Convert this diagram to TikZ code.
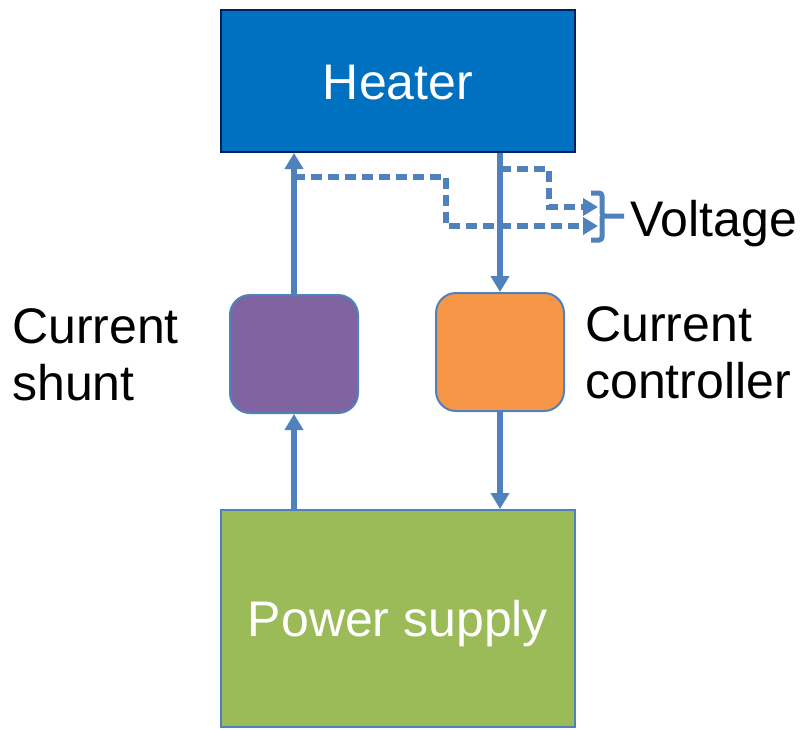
\documentclass[tikz,border=0pt]{standalone}
\usepackage{fontspec}
\setmainfont{Liberation Sans}
\usetikzlibrary{arrows.meta}
\definecolor{wireblue}{HTML}{4F81BD}
\definecolor{heaterblue}{HTML}{0070C0}
\definecolor{heaterline}{HTML}{002060}
\definecolor{shuntpurple}{HTML}{8064A2}
\definecolor{ctrlorange}{HTML}{F79646}
\definecolor{psugreen}{HTML}{9BBB59}

\begin{document}
\begin{tikzpicture}[x=1pt,y=-1pt,
  bigfont/.style={font=\fontsize{50}{57}\selectfont},
  block/.style={draw=wireblue, line width=2pt, inner sep=0pt, text height=36pt, text depth=0pt, bigfont},
  wire/.style={draw=wireblue, line width=5.5pt, -{Triangle[width=18pt,length=16pt]}},
  sense/.style={draw=wireblue, line width=5.5pt, dash pattern=on 11pt off 6pt, -{Triangle[width=17pt,length=15pt]}}]

\useasboundingbox (0,0) rectangle (804,729);

% Heater (top)
\node[block, draw=heaterline, fill=heaterblue, text=white, minimum width=354pt, minimum height=142pt] (heater) at (398,81) {Heater};

% Shunt and controller
\node[block, fill=shuntpurple, rounded corners=20pt, minimum width=128pt, minimum height=118pt] (shunt) at (294,354) {};
\node[block, fill=ctrlorange, rounded corners=20pt, minimum width=128pt, minimum height=118pt] (ctrl) at (500,352) {};

% Power supply (bottom)
\node[block, fill=psugreen, text=white, minimum width=354pt, minimum height=217pt] (psu) at (398,618.5) {Power supply};

% Labels
\node[bigfont, align=left, anchor=west, inner sep=0pt] (shuntlbl) at (12,355) {Current\\shunt};
\node[bigfont, align=left, anchor=west, inner sep=0pt] (ctrllbl) at (585,353) {Current\\controller};
\node[bigfont, anchor=base west, inner sep=0pt] (volt) at (630,236) {Voltage};

% Current loop
\draw[wire] (shunt.north) -- (shunt.north |- heater.south);
\draw[wire] (ctrl.north |- heater.south) -- (ctrl.north);
\draw[wire] (shunt.south |- psu.north) -- (shunt.south);
\draw[wire] (ctrl.south) -- (ctrl.south |- psu.north);

% Voltage taps
\coordinate (tapL) at (294,177);
\coordinate (tapR) at (500,169);
\coordinate (vinL) at (598,226);
\coordinate (vinR) at (598,207);
\draw[sense] (tapL) -| (446,226) -- (vinL);
\draw[sense] (tapR) -| (549,207) -- (vinR);

% Brace
\draw[wireblue, line width=5pt, rounded corners=3pt] (591,193) -- (602,193) -- (602,216) -- (624,216);
\draw[wireblue, line width=5pt, rounded corners=3pt] (591,240) -- (602,240) -- (602,216);

\end{tikzpicture}
\end{document}
